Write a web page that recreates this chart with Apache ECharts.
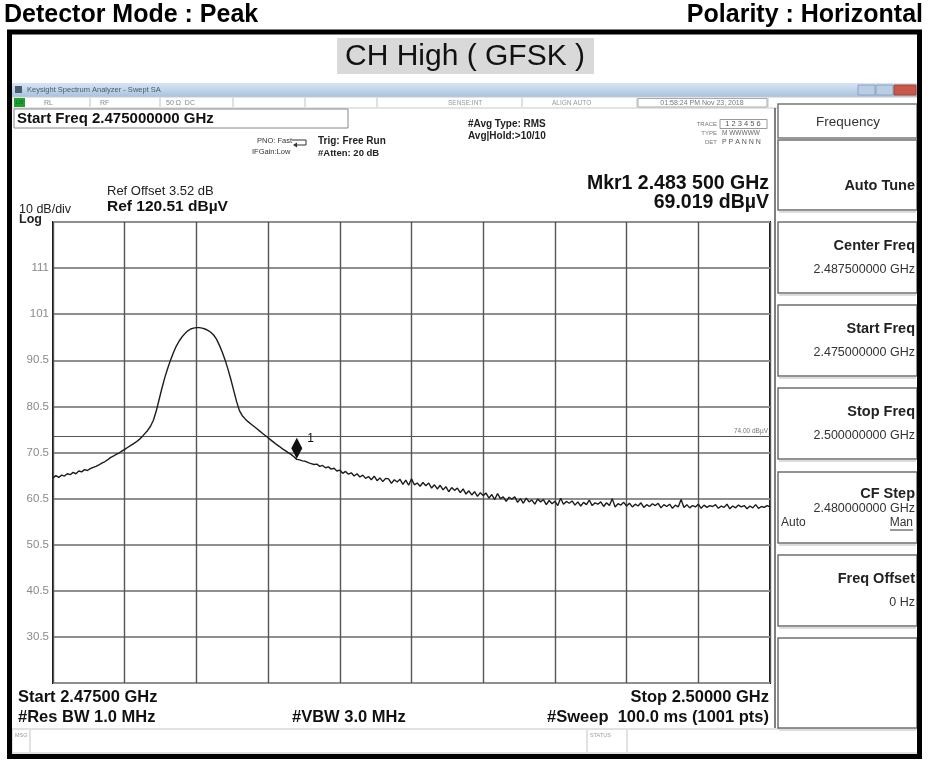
<!DOCTYPE html>
<html>
<head>
<meta charset="utf-8">
<script src="https://cdn.jsdelivr.net/npm/echarts@6/dist/echarts.min.js"></script>
<style>
  html, body { margin: 0; padding: 0; background: #fff; }
  #chart { width: 928px; height: 762px; }
</style>
</head>
<body>
<div id="chart"></div>
<script>
// Sweep settings
const startMHz = 2475;
const stopMHz = 2500;
const refLevel = 120.51;      // dBµV at top graticule line
const dbPerDiv = 10;
const divisions = 10;

// Trace 1 (peak detector, max hold), 0.1 MHz per sample, dBµV
const trace = [
  65.0, 65.5, 65.1, 65.6, 65.4, 65.9, 65.7, 66.2, 65.9, 66.5,
  66.3, 66.8, 66.6, 67.0, 67.3, 67.5, 67.8, 68.2, 68.5, 68.9,
  69.4, 69.7, 70.1, 70.4, 70.8, 71.2, 71.6, 72.0, 72.4, 72.8,
  73.3, 73.9, 74.6, 75.3, 76.2, 77.5, 79.5, 82.0, 84.5, 86.8,
  88.8, 90.6, 92.2, 93.6, 94.7, 95.6, 96.3, 96.9, 97.3, 97.5,
  97.6, 97.6, 97.5, 97.3, 97.0, 96.6, 96.0, 95.1, 93.8, 92.3,
  90.6, 88.6, 86.4, 84.0, 81.6, 79.6, 78.5, 77.8, 77.2, 76.7,
  76.2, 75.7, 75.2, 74.7, 74.2, 73.7, 73.2, 72.7, 72.2, 71.8,
  71.3, 70.9, 70.5, 70.1, 69.6, 69.02, 68.9, 68.7, 68.6, 68.3,
  68.1, 67.9, 68.0, 67.5, 67.7, 67.2, 67.4, 66.9, 67.1, 66.5,
  66.7, 66.0, 66.4, 65.8, 66.1, 65.4, 65.9, 65.2, 65.6, 64.9,
  65.3, 64.6, 65.4, 64.4, 65.0, 64.2, 64.9, 64.8, 63.8, 64.6,
  64.1, 64.7, 63.6, 64.5, 63.4, 64.8, 63.5, 63.9, 63.2, 64.0,
  63.3, 63.9, 62.8, 63.5, 62.6, 63.4, 62.4, 63.1, 62.0, 62.9,
  62.3, 62.8, 61.8, 62.6, 61.5, 62.2, 61.3, 62.0, 61.0, 61.8,
  61.2, 61.7, 60.6, 61.4, 60.3, 61.6, 60.5, 60.9, 59.9, 60.8,
  60.4, 60.9, 59.7, 60.5, 59.5, 60.6, 59.8, 60.2, 59.3, 60.4,
  59.8, 60.3, 59.2, 60.1, 59.4, 59.9, 59.0, 60.6, 59.3, 59.9,
  59.5, 60.0, 59.1, 59.8, 58.9, 59.7, 59.2, 60.2, 59.0, 59.6,
  59.3, 59.8, 58.8, 59.6, 59.0, 60.5, 58.7, 59.4, 59.1, 59.7,
  58.9, 59.5, 58.7, 59.3, 58.9, 59.6, 58.6, 59.2, 58.8, 59.4,
  59.0, 59.5, 58.5, 59.2, 58.8, 59.3, 58.4, 59.1, 58.7, 60.3,
  58.6, 59.2, 58.5, 59.0, 58.7, 59.3, 58.4, 59.1, 58.6, 59.0,
  58.8, 59.2, 58.4, 58.9, 58.6, 59.3, 58.3, 58.9, 58.5, 59.1,
  58.7, 59.0, 58.3, 58.9, 58.5, 59.2, 58.4, 58.8, 58.6, 59.0,
  58.7
];

// Graticule labels, bottom to top
const yTickLabels = ['', '30.5', '40.5', '50.5', '60.5', '70.5', '80.5', '90.5', '101', '111', ''];

// Marker 1 and display line
const markerMHz = 2483.5;
const markerLevel = 69.019;
const displayLine = 74.00;

// Softkey menu (Frequency)
const softkeys = [
  { top: 140, h: 70, title: 'Auto Tune' },
  { top: 222, h: 71, title: 'Center Freq', value: '2.487500000 GHz' },
  { top: 305, h: 71, title: 'Start Freq', value: '2.475000000 GHz' },
  { top: 388, h: 71, title: 'Stop Freq', value: '2.500000000 GHz' },
  { top: 472, h: 71, title: 'CF Step', value: '2.480000000 GHz', sub: ['Auto', 'Man'] },
  { top: 555, h: 71, title: 'Freq Offset', value: '0 Hz' },
  { top: 638, h: 90 }
];

const FONT = '"Liberation Sans", Arial, Helvetica, sans-serif';
const stepMHz = (stopMHz - startMHz) / (trace.length - 1);
const traceData = trace.map((v, i) => [startMHz + i * stepMHz, v]);

function txt(x, y, s, size, opt) {
  opt = opt || {};
  return {
    type: 'text', x: x, y: y, z: 20, silent: true,
    style: {
      text: s,
      font: (opt.bold ? 'bold ' : '') + size + 'px ' + FONT,
      fill: opt.color || '#111',
      textAlign: opt.align || 'left',
      textVerticalAlign: 'middle'
    }
  };
}
function box(x, y, w, h, fill, stroke, lw, z) {
  return {
    type: 'rect', z: z == null ? 5 : z, silent: true,
    shape: { x: x, y: y, width: w, height: h },
    style: { fill: fill || 'none', stroke: stroke || 'none', lineWidth: lw || 1 }
  };
}
function line(x1, y1, x2, y2, color, lw, z) {
  return {
    type: 'line', z: z == null ? 6 : z, silent: true,
    shape: { x1: x1, y1: y1, x2: x2, y2: y2 },
    style: { stroke: color, lineWidth: lw || 1 }
  };
}

const g = [];
// page header
g.push(txt(4, 15, 'Detector Mode : Peak', 25, { bold: true, color: '#000' }));
g.push(txt(923, 15, 'Polarity : Horizontal', 25, { bold: true, color: '#000', align: 'right' }));
// outer frame
g.push(box(9.5, 32, 910, 724.5, 'none', '#000', 5, 30));
// test title
g.push(box(337, 38, 257, 36, '#d9d9d9', 'none', 0, 3));
g.push(txt(465, 57, 'CH High ( GFSK )', 30, { color: '#111', align: 'center' }));

// analyzer window title bar
g.push({
  type: 'rect', z: 4, silent: true,
  shape: { x: 12, y: 83, width: 906, height: 14 },
  style: { fill: new echarts.graphic.LinearGradient(0, 0, 0, 1, [
    { offset: 0, color: '#d8e5f3' }, { offset: 1, color: '#a9c2df' }]) }
});
g.push(box(15, 86, 7, 7, '#4a5a70', 'none', 0, 6));
g.push(txt(27, 90, 'Keysight Spectrum Analyzer - Swept SA', 7.5, { color: '#4b5a6e' }));
g.push(box(858, 85, 17, 10, '#b9cde4', '#8aa2c0', 1, 6));
g.push(box(876, 85, 17, 10, '#b9cde4', '#8aa2c0', 1, 6));
g.push(box(894, 85, 22, 10, '#c9574a', '#a0443a', 1, 6));

// status row
g.push(box(12, 97, 906, 11, '#fff', '#c8c8c8', 1, 4));
g.push(box(14, 98, 11, 9, '#22a02c', 'none', 0, 6));
g.push(txt(16, 103, 'LXI', 5, { color: '#063' }));
[90, 160, 233, 305, 377, 522, 637, 768].forEach(x => g.push(line(x, 98, x, 107, '#c0c0c0', 1)));
g.push(txt(44, 103, 'RL', 7, { color: '#888' }));
g.push(txt(100, 103, 'RF', 7, { color: '#888' }));
g.push(txt(166, 103, '50 Ω  DC', 7, { color: '#888' }));
g.push(txt(448, 103, 'SENSE:INT', 6.5, { color: '#999' }));
g.push(txt(552, 103, 'ALIGN AUTO', 6.5, { color: '#999' }));
g.push(box(638, 98.5, 129, 8.5, 'none', '#aaa', 1, 6));
g.push(txt(702, 103, '01:58:24 PM Nov 23, 2018', 7, { color: '#777', align: 'center' }));

// active function / settings block
g.push(box(14, 109, 334, 19, '#fff', '#888', 1, 4));
g.push(txt(17, 119, 'Start Freq 2.475000000 GHz', 15, { bold: true, color: '#111' }));
g.push(txt(257, 141, 'PNO: Fast', 7.5, { color: '#333' }));
g.push(txt(252, 152, 'IFGain:Low', 7.5, { color: '#333' }));
g.push({
  type: 'polyline', z: 6, silent: true,
  shape: { points: [[292, 140], [306, 140], [306, 145], [296, 145]] },
  style: { stroke: '#333', lineWidth: 1, fill: 'none' }
});
g.push({
  type: 'polygon', z: 6, silent: true,
  shape: { points: [[293, 145], [297, 142.5], [297, 147.5]] },
  style: { fill: '#333' }
});
g.push(txt(318, 141, 'Trig: Free Run', 10, { bold: true, color: '#222' }));
g.push(txt(318, 153, '#Atten: 20 dB', 9.5, { bold: true, color: '#222' }));
g.push(txt(468, 124, '#Avg Type: RMS', 10, { bold: true, color: '#222' }));
g.push(txt(468, 136, 'Avg|Hold:>10/10', 10, { bold: true, color: '#222' }));
g.push(txt(717, 124, 'TRACE', 6, { color: '#777', align: 'right' }));
g.push(box(720, 119.5, 47, 9, 'none', '#999', 1, 6));
g.push(txt(743, 124, '1 2 3 4 5 6', 7.5, { color: '#555', align: 'center' }));
g.push(txt(717, 133, 'TYPE', 6, { color: '#777', align: 'right' }));
g.push(txt(722, 133, 'M WWWWW', 6.5, { color: '#666' }));
g.push(txt(717, 142, 'DET', 6, { color: '#777', align: 'right' }));
g.push(txt(722, 142, 'P P A N N N', 7, { color: '#555' }));

// reference / scale annotations
g.push(txt(107, 191, 'Ref Offset 3.52 dB', 13, { color: '#222' }));
g.push(txt(107, 207, 'Ref 120.51 dBµV', 15.5, { bold: true, color: '#111' }));
g.push(txt(19, 210, '10 dB/div', 12.5, { color: '#222' }));
g.push(txt(19, 220, 'Log', 12.5, { bold: true, color: '#222' }));
g.push(txt(769, 184, 'Mkr1 2.483 500 GHz', 19.5, { bold: true, color: '#111', align: 'right' }));
g.push(txt(769, 203, '69.019 dBµV', 19.5, { bold: true, color: '#111', align: 'right' }));

// bottom annotations
g.push(txt(18, 697, 'Start 2.47500 GHz', 16.5, { bold: true, color: '#111' }));
g.push(txt(18, 717, '#Res BW 1.0 MHz', 16.5, { bold: true, color: '#111' }));
g.push(txt(292, 717, '#VBW 3.0 MHz', 16.5, { bold: true, color: '#111' }));
g.push(txt(769, 697, 'Stop 2.50000 GHz', 16.5, { bold: true, color: '#111', align: 'right' }));
g.push(txt(769, 717, '#Sweep  100.0 ms (1001 pts)', 16.5, { bold: true, color: '#111', align: 'right' }));

// message / status bar
g.push(box(12, 729, 906, 24, '#fff', '#c4c4c4', 1, 4));
g.push(line(30, 730, 30, 752, '#c4c4c4', 1));
g.push(line(587, 730, 587, 752, '#c4c4c4', 1));
g.push(line(627, 730, 627, 752, '#c4c4c4', 1));
g.push(txt(15, 735, 'MSG', 5.5, { color: '#999' }));
g.push(txt(590, 735, 'STATUS', 5.5, { color: '#999' }));

// softkey panel
g.push(line(775, 108, 775, 728, '#555', 1.5));
g.push(box(778, 104, 139, 34, '#fff', '#777', 1.5, 5));
g.push(txt(848, 122, 'Frequency', 13.5, { color: '#333', align: 'center' }));
softkeys.forEach(k => {
  g.push(box(778, k.top, 139, k.h, '#fff', '#6f6f6f', 1.5, 5));
  g.push(line(779, k.top + k.h + 2, 916, k.top + k.h + 2, '#dcdcdc', 2));
  if (!k.title) return;
  if (!k.value) {
    g.push(txt(915, k.top + 46, k.title, 14.5, { bold: true, color: '#222', align: 'right' }));
  } else if (k.sub) {
    g.push(txt(915, k.top + 22, k.title, 14.5, { bold: true, color: '#222', align: 'right' }));
    g.push(txt(915, k.top + 37, k.value, 12.5, { color: '#333', align: 'right' }));
    g.push(txt(781, k.top + 51, k.sub[0], 12, { color: '#333' }));
    g.push(txt(913, k.top + 51, k.sub[1], 12, { color: '#333', align: 'right' }));
    g.push(line(890, k.top + 58, 913, k.top + 58, '#333', 1));
  } else {
    g.push(txt(915, k.top + 24, k.title, 14.5, { bold: true, color: '#222', align: 'right' }));
    g.push(txt(915, k.top + 48, k.value, 12.5, { color: '#333', align: 'right' }));
  }
});

const chart = echarts.init(document.getElementById('chart'), null, { renderer: 'canvas' });
chart.setOption({
  animation: false,
  backgroundColor: '#fff',
  grid: {
    left: 53, top: 222, right: 158, bottom: 79,
    show: true, borderColor: '#111', borderWidth: 2, backgroundColor: '#fff'
  },
  xAxis: {
    type: 'value',
    min: startMHz, max: stopMHz,
    interval: (stopMHz - startMHz) / divisions,
    axisLine: { show: false },
    axisTick: { show: false },
    axisLabel: { show: false },
    splitLine: { show: true, lineStyle: { color: '#555', width: 1.4 } }
  },
  yAxis: {
    type: 'value',
    min: refLevel - dbPerDiv * divisions,
    max: refLevel,
    interval: dbPerDiv,
    axisLine: { show: false },
    axisTick: { show: false },
    axisLabel: {
      show: true, margin: 4, fontSize: 11.5, fontFamily: FONT, color: '#8a8a8a',
      formatter: (v, i) => yTickLabels[i] || ''
    },
    splitLine: { show: true, lineStyle: { color: '#8f8f8f', width: 2.2 } }
  },
  series: [{
    type: 'line',
    data: traceData,
    symbol: 'none',
    smooth: false,
    lineStyle: { color: '#1c1c1c', width: 1.4 },
    z: 10,
    markLine: {
      silent: true,
      symbol: 'none',
      lineStyle: { color: '#555', width: 1, type: 'solid' },
      label: {
        show: true, position: 'insideEndTop', formatter: displayLine.toFixed(2) + ' dBµV',
        fontSize: 6.5, fontFamily: FONT, color: '#777', distance: 2
      },
      data: [{ yAxis: displayLine }]
    },
    markPoint: {
      silent: true,
      symbol: 'diamond',
      symbolSize: [11, 21],
      symbolOffset: [0, -11],
      itemStyle: { color: '#111' },
      label: {
        show: true, formatter: '1', position: 'right', offset: [0, -10],
        fontSize: 12, fontFamily: FONT, color: '#111'
      },
      data: [{ coord: [markerMHz, markerLevel] }]
    }
  }],
  graphic: { elements: g }
});
</script>
</body>
</html>
